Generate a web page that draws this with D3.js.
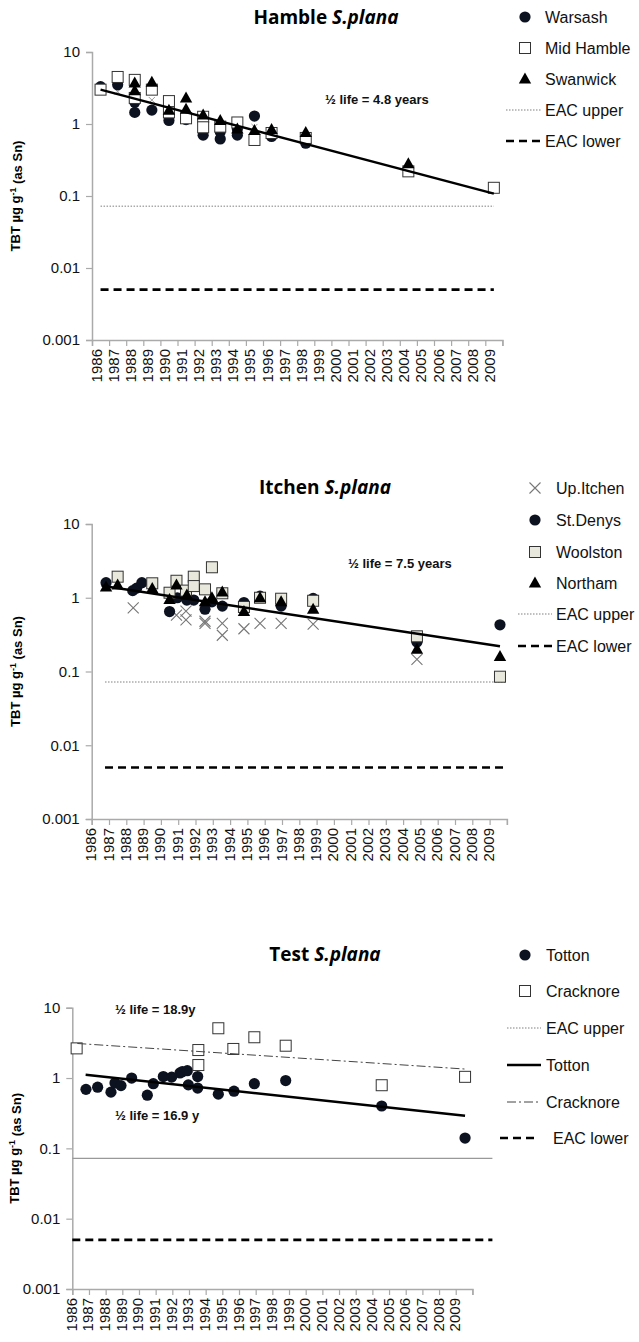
<!DOCTYPE html>
<html><head><meta charset="utf-8">
<script src="https://cdn.jsdelivr.net/npm/d3@7"></script>
<style>
body{margin:0;background:#fff}
svg{display:block}
text{font-family:Arial,"Liberation Sans",sans-serif}
</style>
</head><body>
<svg id="chart" width="639" height="1342"></svg>
<script>
// ---------- shared axis data ----------
const yearTicks = d3.range(1986, 2011);
const yearLabels = d3.range(1986, 2010);
const yTickValues = [0.001, 0.01, 0.1, 1, 10];
const yTickLabels = ["0.001", "0.01", "0.1", "1", "10"];
const eacUpperValue = 0.072;
const eacLowerValue = 0.005;

// ---------- Hamble ----------
const warsashYears  = [1986.5,1987.5,1988.5,1988.5,1989.5,1990.5,1990.5,1991.5,1992.5,1993.5,1993.5,1994.5,1994.5,1995.5,1996.5,1998.5];
const warsashValues = [3.3,3.5,2.0,1.45,1.56,1.42,1.12,1.15,0.70,0.78,0.62,0.85,0.70,1.29,0.67,0.54];
const midHambleYears  = [1986.5,1987.5,1988.5,1988.5,1989.5,1990.5,1990.5,1991.5,1992.5,1992.5,1993.5,1994.5,1995.5,1996.5,1998.5,2004.5,2009.5];
const midHambleValues = [3.0,4.5,4.1,2.3,3.0,2.08,1.45,1.2,1.26,0.9,0.92,1.05,0.60,0.75,0.64,0.22,0.13];
const swanwickYears  = [1988.5,1988.5,1989.5,1990.5,1991.5,1991.5,1992.5,1993.5,1994.5,1995.5,1996.5,1998.5,2004.5];
const swanwickValues = [3.7,2.9,3.8,1.55,2.3,1.6,1.33,1.12,0.85,0.81,0.84,0.76,0.28];
const hambleOtherYears  = [1987.5,1989.5,1995.5];
const hambleOtherValues = [2.8,2.15,0.91];
const hambleTrendYears  = [1986.5, 2009.5];
const hambleTrendValues = [3.0, 0.108];
const hambleEacYears = [1986.5, 2009.5];

// ---------- Itchen ----------
const upItchenYears  = [1988.4,1990.9,1991.45,1991.45,1992.55,1992.55,1993.55,1993.55,1994.8,1995.73,1996.95,1998.8,2004.8];
const upItchenValues = [0.73,0.58,0.66,0.5,0.48,0.45,0.45,0.31,0.38,0.45,0.45,0.44,0.146];
const stDenysYears  = [1986.83,1988.37,1988.6,1988.9,1990.5,1990.95,1991.5,1991.9,1992.55,1992.95,1993.55,1994.8,1995.73,1996.95,1998.8,2004.8,2009.6];
const stDenysValues = [1.6,1.25,1.35,1.6,0.65,1.0,0.93,0.93,0.7,0.88,0.77,0.86,1.05,0.77,0.98,0.25,0.43];
const woolstonYears  = [1987.5,1989.5,1990.5,1990.9,1991.45,1991.9,1991.9,1992.55,1992.95,1993.55,1994.8,1995.73,1996.95,1998.8,2004.8,2009.6];
const woolstonValues = [1.93,1.57,1.17,1.7,1.25,1.93,1.44,1.3,2.59,1.15,0.75,1.0,0.97,0.91,0.3,0.085];
const northamYears  = [1986.83,1987.5,1989.5,1990.5,1990.9,1991.5,1992.55,1992.95,1993.55,1994.8,1995.73,1996.95,1998.8,2004.8,2009.6];
const northamValues = [1.4,1.49,1.34,0.95,1.49,1.09,0.88,1.0,1.2,0.65,1.0,0.88,0.7,0.2,0.16];
const itchenTrendYears  = [1986.58, 2009.6];
const itchenTrendValues = [1.45, 0.22];
const itchenEacYears = [1986.77, 2009.9];

// ---------- Test ----------
const tottonYears  = [1986.82,1987.52,1988.32,1988.56,1988.92,1989.56,1990.5,1990.86,1991.46,1991.96,1992.46,1992.6,1992.9,1992.96,1993.52,1993.52,1994.76,1995.7,1996.92,1998.8,2004.56,2009.56];
const tottonValues = [0.69,0.74,0.63,0.85,0.78,1.0,0.57,0.83,1.05,1.03,1.18,1.23,1.27,0.80,1.05,0.72,0.59,0.65,0.83,0.92,0.40,0.14];
const cracknoreYears  = [1986.26,1993.56,1993.56,1994.76,1995.66,1996.92,1998.8,2004.56,2009.56];
const cracknoreValues = [2.64,2.5,1.53,5.1,2.59,3.8,2.88,0.79,1.04];
const tottonTrendYears  = [1986.8, 2009.56];
const tottonTrendValues = [1.11, 0.29];
const cracknoreTrendYears  = [1986.3, 2009.6];
const cracknoreTrendValues = [3.1, 1.34];
const testEacYears = [1986, 2011.2];

const svg = d3.select("#chart");

// marker drawing helpers
const markers = {
  circle: (g) => g.append("circle").attr("r", 5.6).attr("fill", "#0d1220"),
  square: (g) => g.append("rect").attr("x", -5.5).attr("y", -5.5).attr("width", 11).attr("height", 11)
                  .attr("fill", "#fff").attr("stroke", "#333").attr("stroke-width", 1),
  squareGrey: (g) => g.append("rect").attr("x", -5.5).attr("y", -5.5).attr("width", 11).attr("height", 11)
                  .attr("fill", "#e8e8dc").attr("stroke", "#333").attr("stroke-width", 1),
  triangle: (g) => g.append("path").attr("d", "M0,-6.5L6.2,4.5L-6.2,4.5Z").attr("fill", "#000"),
  cross: (g) => g.append("path").attr("d", "M-5.5,-5.5L5.5,5.5M-5.5,5.5L5.5,-5.5")
                  .attr("stroke", "#777").attr("stroke-width", 1.1).attr("fill", "none"),
  smallCross: (g) => g.append("path").attr("d", "M-3,-3L3,3M-3,3L3,-3")
                  .attr("stroke", "#999").attr("stroke-width", 1).attr("fill", "none")
};
const lineStyles = {
  eacUpper: {stroke: "#aaa", width: 1.4, dash: "1.5,1.5"},
  eacUpperSolid: {stroke: "#999", width: 1.3, dash: null},
  eacLower: {stroke: "#000", width: 2.6, dash: "8,5"},
  trend: {stroke: "#000", width: 2.5, dash: null},
  dashDot: {stroke: "#444", width: 1, dash: "9,3,2,3"}
};
function styleLine(sel, st) {
  sel.attr("stroke", st.stroke).attr("stroke-width", st.width).attr("fill", "none");
  if (st.dash) sel.attr("stroke-dasharray", st.dash);
  return sel;
}

function drawPanel(p) {
  const x = d3.scaleLinear().domain([1986, 2010]).range(p.xRange);
  const y = d3.scaleLog().domain([0.001, 10]).range(p.yRange);
  const g = svg.append("g");

  // title
  const t = g.append("text").attr("x", p.titleX).attr("y", p.titleY)
    .attr("text-anchor", "middle").style("font-family", "'Open Sans',sans-serif")
    .style("font-weight", "bold").style("font-size", "19px");
  t.append("tspan").text(p.title + " ");
  t.append("tspan").style("font-style", "italic").text("S.plana");

  // y axis
  const yAxis = d3.axisLeft(y).tickValues(yTickValues)
    .tickFormat((d, i) => yTickLabels[i]).tickSize(6).tickPadding(6);
  const ya = g.append("g").attr("transform", `translate(${p.xRange[0]},0)`).call(yAxis);
  ya.select(".domain").attr("stroke", "#aaa").attr("stroke-width", 1.5);
  ya.selectAll(".tick line").attr("stroke", "#aaa").attr("stroke-width", 1.2);
  ya.selectAll(".tick text").style("font-size", "15px").attr("fill", "#111")
    .style("font-family", "Arial,'Liberation Sans',sans-serif");

  // x axis
  const xAxis = d3.axisBottom(x).tickValues(yearTicks).tickFormat("").tickSize(6);
  const xa = g.append("g").attr("transform", `translate(0,${p.yRange[0]})`).call(xAxis);
  xa.select(".domain").attr("stroke", "#aaa").attr("stroke-width", 1.5);
  xa.selectAll(".tick line").attr("stroke", "#aaa").attr("stroke-width", 1.2);
  g.append("g").selectAll("text").data(yearLabels).join("text")
    .attr("transform", d => `translate(${x(d) + p.labelShift},${p.yRange[0] + 9}) rotate(-90)`)
    .attr("text-anchor", "end").attr("dominant-baseline", "central")
    .style("font-size", "15px").attr("fill", "#111").text(d => d);

  // y axis title
  const yt = g.append("text")
    .attr("transform", `translate(${p.yTitleX},${(p.yRange[0] + p.yRange[1]) / 2}) rotate(-90)`)
    .attr("text-anchor", "middle").style("font-weight", "bold").style("font-size", "13px");
  yt.append("tspan").text("TBT µg g");
  yt.append("tspan").attr("dy", "-0.45em").style("font-size", "9px").text("-1");
  yt.append("tspan").attr("dy", "0.45em").text(" (as Sn)");

  // reference levels
  const lineGen = d3.line().x(d => x(d[0])).y(d => y(d[1]));
  styleLine(g.append("path").attr("d", lineGen(p.eacYears.map(yr => [yr, eacUpperValue]))), lineStyles[p.upperStyle]);
  styleLine(g.append("path").attr("d", lineGen(p.eacYears.map(yr => [yr, eacLowerValue]))), lineStyles.eacLower);

  // series markers
  p.series.forEach(s => {
    const pts = s.years.map((yr, i) => [yr, s.values[i]]);
    pts.forEach(d => {
      const mg = g.append("g").attr("transform", `translate(${x(d[0])},${y(d[1])})`);
      markers[s.marker](mg);
    });
  });

  // trend lines
  p.trends.forEach(tr => {
    styleLine(g.append("path").attr("d", lineGen(tr.years.map((yr, i) => [yr, tr.values[i]]))), lineStyles[tr.style]);
  });

  // half-life notes
  p.notes.forEach(n => {
    g.append("text").attr("x", n.x).attr("y", n.y).attr("dominant-baseline", "central")
      .style("font-weight", "bold").style("font-size", "13px").attr("fill", "#111").text(n.text);
  });

  // legend
  p.legend.forEach(e => {
    if (e.marker) {
      markers[e.marker](g.append("g").attr("transform", `translate(${e.mx},${e.y})`));
    } else {
      styleLine(g.append("line").attr("x1", e.lx[0]).attr("x2", e.lx[1]).attr("y1", e.y).attr("y2", e.y), lineStyles[e.line]);
    }
    g.append("text").attr("x", e.tx).attr("y", e.y).attr("dominant-baseline", "central")
      .style("font-size", "16px").attr("fill", "#111").text(e.label);
  });
}

// ---------- Hamble panel ----------
drawPanel({
  title: "Hamble", titleX: 326, titleY: 24,
  xRange: [92, 502.4], yRange: [340, 52], labelShift: 4, yTitleX: 20,
  eacYears: hambleEacYears, upperStyle: "eacUpper",
  series: [
    {years: hambleOtherYears, values: hambleOtherValues, marker: "smallCross"},
    {years: warsashYears, values: warsashValues, marker: "circle"},
    {years: midHambleYears, values: midHambleValues, marker: "square"},
    {years: swanwickYears, values: swanwickValues, marker: "triangle"}
  ],
  trends: [{years: hambleTrendYears, values: hambleTrendValues, style: "trend"}],
  notes: [{x: 325, y: 99, text: "½ life = 4.8 years"}],
  legend: [
    {label: "Warsash", marker: "circle", mx: 525, tx: 545, y: 17},
    {label: "Mid Hamble", marker: "square", mx: 525, tx: 545, y: 48},
    {label: "Swanwick", marker: "triangle", mx: 525, tx: 545, y: 79},
    {label: "EAC upper", line: "eacUpper", lx: [506, 542], tx: 545, y: 110},
    {label: "EAC lower", line: "eacLower", lx: [506, 542], tx: 545, y: 141}
  ]
});

// ---------- Itchen panel ----------
drawPanel({
  title: "Itchen", titleX: 325, titleY: 494,
  xRange: [91.7, 506.9], yRange: [819, 524], labelShift: -1, yTitleX: 20,
  eacYears: itchenEacYears, upperStyle: "eacUpper",
  series: [
    {years: upItchenYears, values: upItchenValues, marker: "cross"},
    {years: stDenysYears, values: stDenysValues, marker: "circle"},
    {years: woolstonYears, values: woolstonValues, marker: "squareGrey"},
    {years: northamYears, values: northamValues, marker: "triangle"}
  ],
  trends: [{years: itchenTrendYears, values: itchenTrendValues, style: "trend"}],
  notes: [{x: 348, y: 563, text: "½ life = 7.5 years"}],
  legend: [
    {label: "Up.Itchen", marker: "cross", mx: 535, tx: 556, y: 488},
    {label: "St.Denys", marker: "circle", mx: 535, tx: 556, y: 520},
    {label: "Woolston", marker: "squareGrey", mx: 535, tx: 556, y: 552},
    {label: "Northam", marker: "triangle", mx: 535, tx: 556, y: 583},
    {label: "EAC upper", line: "eacUpper", lx: [518, 552], tx: 556, y: 614},
    {label: "EAC lower", line: "eacLower", lx: [518, 552], tx: 556, y: 646}
  ]
});

// ---------- Test panel ----------
drawPanel({
  title: "Test", titleX: 325, titleY: 961,
  xRange: [72.3, 472.4], yRange: [1289, 1007.7], labelShift: -1, yTitleX: 19,
  eacYears: testEacYears, upperStyle: "eacUpperSolid",
  series: [
    {years: tottonYears, values: tottonValues, marker: "circle"},
    {years: cracknoreYears, values: cracknoreValues, marker: "square"}
  ],
  trends: [
    {years: tottonTrendYears, values: tottonTrendValues, style: "trend"},
    {years: cracknoreTrendYears, values: cracknoreTrendValues, style: "dashDot"}
  ],
  notes: [
    {x: 115, y: 1009, text: "½ life  = 18.9y"},
    {x: 115, y: 1115, text: "½ life  = 16.9 y"}
  ],
  legend: [
    {label: "Totton", marker: "circle", mx: 525, tx: 546, y: 955},
    {label: "Cracknore", marker: "square", mx: 525, tx: 546, y: 991},
    {label: "EAC upper", line: "eacUpper", lx: [507, 541], tx: 546, y: 1028},
    {label: "Totton", line: "trend", lx: [507, 541], tx: 546, y: 1065},
    {label: "Cracknore", line: "dashDot", lx: [507, 541], tx: 546, y: 1102},
    {label: "EAC lower", line: "eacLower", lx: [500, 537], tx: 553, y: 1138}
  ]
});
</script>
</body></html>
